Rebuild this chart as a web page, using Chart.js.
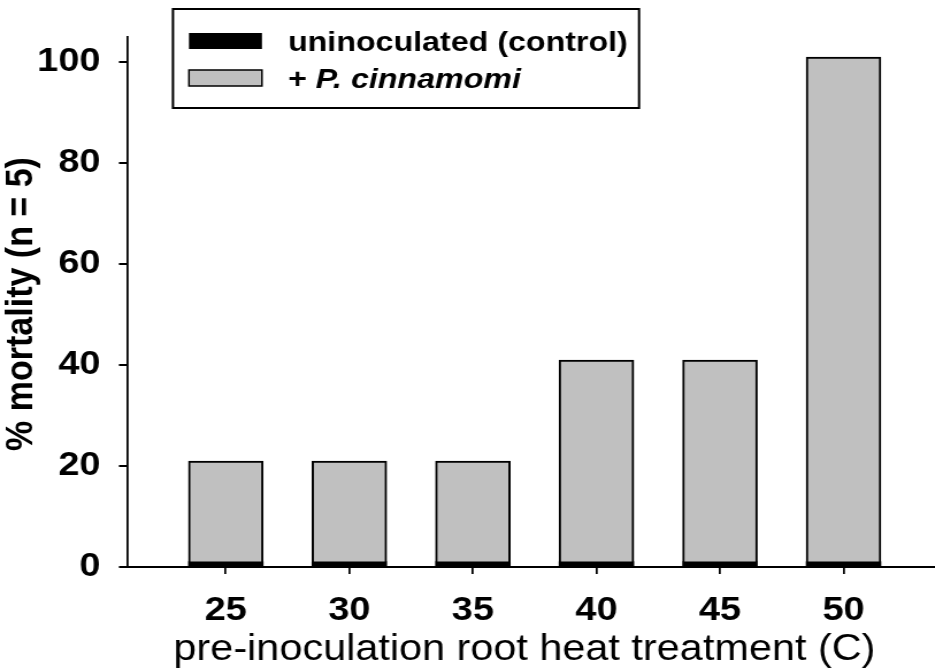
<!DOCTYPE html>
<html>
<head>
<meta charset="utf-8">
<script src="https://cdn.jsdelivr.net/npm/chart.js@4.4.1/dist/chart.umd.min.js"></script>
<style>
  html, body { margin: 0; padding: 0; background: #fff; overflow: hidden; }
  /* the original figure is a little wider than tall in its lettering, so stretch the canvas */
  #wrap { width: 813px; height: 670px; transform: scaleX(1.15); transform-origin: 0 0; }
</style>
</head>
<body>
<div id="wrap"><canvas id="chart" width="813" height="670"></canvas></div>
<script>
const temps = [25, 30, 35, 40, 45, 50];
const controlMortality = [1, 1, 1, 1, 1, 1];
const inoculatedMortality = [20, 20, 20, 40, 40, 100];
const yTickValues = [0, 20, 40, 60, 80, 100];
const xTickValues = [25, 30, 35, 40, 45, 50];

const FONT = '"Liberation Sans", Arial, Helvetica, sans-serif';
const GREY = '#C0C0C0';

function toPoints(values) {
    return temps.map((t, i) => ({ x: t, y: values[i] }));
}

// titles and the boxed legend, drawn after the chart
const annotations = {
    id: 'annotations',
    afterDraw(chart) {
        const ctx = chart.ctx;
        ctx.save();
        ctx.fillStyle = '#000';

        // y title
        ctx.save();
        ctx.translate(19, 304);
        ctx.rotate(-Math.PI / 2);
        ctx.font = 'bold 34px ' + FONT;
        ctx.textAlign = 'center';
        ctx.textBaseline = 'middle';
        ctx.fillText('% mortality (n = 5)', 0, 0);
        ctx.restore();

        // x title
        ctx.font = '36px ' + FONT;
        ctx.textAlign = 'center';
        ctx.textBaseline = 'alphabetic';
        ctx.fillText('pre-inoculation root heat treatment (C)', 456, 660);

        // legend box
        ctx.strokeStyle = '#000';
        ctx.lineWidth = 2;
        ctx.strokeRect(150.4, 9, 405.3, 99);

        ctx.fillStyle = '#000';
        ctx.fillRect(164.3, 33, 63.5, 16);
        ctx.fillStyle = GREY;
        ctx.fillRect(164.3, 70, 63.5, 16);
        ctx.lineWidth = 1.5;
        ctx.strokeRect(164.3, 70, 63.5, 16);

        ctx.fillStyle = '#000';
        ctx.textAlign = 'left';
        ctx.font = 'bold 28px ' + FONT;
        ctx.fillText('uninoculated (control)', 250.4, 51);
        ctx.fillText('+ ', 250.4, 87.5);
        const plusW = ctx.measureText('+ ').width;
        ctx.font = 'italic bold 28px ' + FONT;
        ctx.fillText('P. cinnamomi', 250.4 + plusW, 87.5);
        ctx.restore();
    }
};

new Chart(document.getElementById('chart'), {
    type: 'bar',
    data: {
        datasets: [
            {
                label: 'uninoculated (control)',
                data: toPoints(controlMortality),
                backgroundColor: '#000',
                borderWidth: 0,
                barThickness: 65
            },
            {
                label: '+ P. cinnamomi',
                data: toPoints(inoculatedMortality),
                backgroundColor: GREY,
                borderColor: '#000',
                borderWidth: 2,
                barThickness: 65
            }
        ]
    },
    options: {
        responsive: false,
        animation: false,
        layout: { padding: { top: 37, left: 0, right: 0, bottom: 0 } },
        plugins: {
            legend: { display: false },
            tooltip: { enabled: false }
        },
        scales: {
            x: {
                type: 'linear',
                stacked: true,
                min: 21,
                max: 53.7,
                offset: false,
                afterBuildTicks: (scale) => {
                    scale.ticks = xTickValues.map(v => ({ value: v }));
                },
                afterFit: (scale) => { scale.height = 103; },
                grid: {
                    offset: false,
                    drawOnChartArea: false,
                    drawTicks: true,
                    tickLength: 7,
                    color: '#000',
                    lineWidth: 1.75
                },
                border: { display: true, color: '#000', width: 2 },
                ticks: {
                    color: '#000',
                    padding: 17,
                    maxRotation: 0,
                    font: { family: FONT, size: 33, weight: 'bold' }
                }
            },
            y: {
                stacked: true,
                min: 0,
                max: 105,
                afterBuildTicks: (scale) => {
                    scale.ticks = yTickValues.map(v => ({ value: v }));
                },
                afterFit: (scale) => { scale.width = 110.4; },
                grid: {
                    drawOnChartArea: false,
                    drawTicks: true,
                    tickLength: 7,
                    color: '#000',
                    lineWidth: 2
                },
                border: { display: true, color: '#000', width: 1.75 },
                ticks: {
                    color: '#000',
                    padding: 16,
                    font: { family: FONT, size: 33, weight: 'bold' }
                }
            }
        }
    },
    plugins: [annotations]
});
</script>
</body>
</html>
